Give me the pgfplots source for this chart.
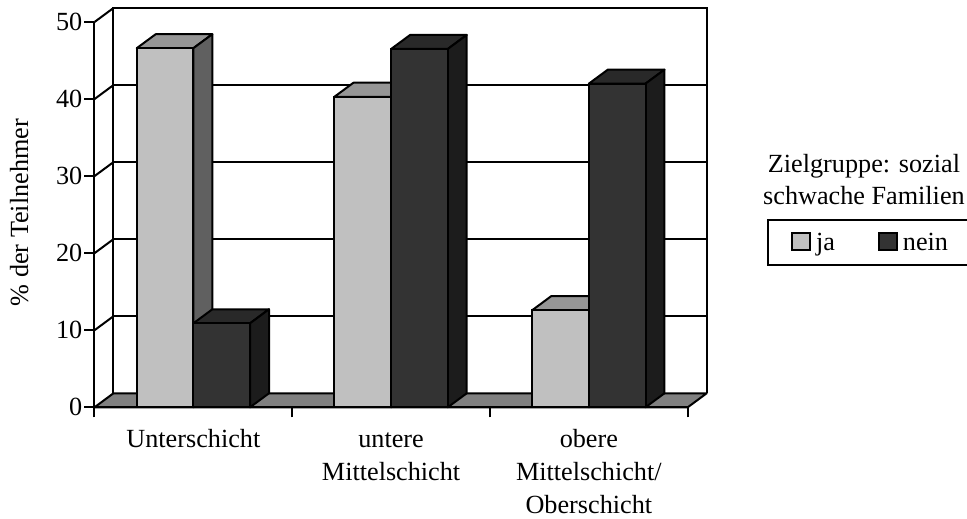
\documentclass[border=0pt]{standalone}
\usepackage{fontspec}
\setmainfont{Liberation Serif}
\usepackage{pgfplots}
\pgfplotsset{compat=1.18}
\definecolor{ltfront}{HTML}{C0C0C0}
\definecolor{lttop}{HTML}{969696}
\definecolor{ltside}{HTML}{606060}
\definecolor{dkfront}{HTML}{333333}
\definecolor{dktop}{HTML}{292929}
\definecolor{dkside}{HTML}{1C1C1C}
\definecolor{floorc}{HTML}{808080}
\newcommand{\chartfont}{\fontsize{26.2}{32}\selectfont}
\newcommand{\xfont}{\fontsize{26.2}{33}\selectfont}
\pgfplotsset{
  wall/.style={forget plot,black,line width=2pt},
  face/.style={forget plot,draw=black,line width=2pt,line join=round,fill=#1},
}
\begin{document}
\begin{tikzpicture}
\path[use as bounding box] (0,0) rectangle (967pt,519pt);
\begin{axis}[
    at={(94.5pt,111.7pt)},
    anchor=origin,
    scale only axis,
    width=612.2pt,
    height=399.3pt,
    xmin=0, xmax=3.096,
    ymin=0, ymax=51.82,
    clip=false,
    axis lines*=left,
    axis line style={draw=none},
    tick align=outside,
    major tick length=10pt,
    minor tick length=10pt,
    tick style={black,line width=2pt},
    minor tick style={black,line width=2pt},
    major x tick style={draw=none},
    xtick={0.5,1.5,2.5},
    minor xtick={0,1,2,3},
    xticklabels={\strut Unterschicht,{\strut untere\\Mittelschicht},{\strut obere\\Mittelschicht/\\Oberschicht}},
    x tick label style={font=\xfont,align=center,inner sep=0pt,yshift=-7pt},
    ytick={0,10,20,30,40,50},
    y tick label style={font=\chartfont,inner sep=2pt},
    /pgf/number format/assume math mode=true,
    ylabel={\% der Teilnehmer},
    ylabel style={font=\chartfont,at={(rel axis cs:-0.123,0.4875)},anchor=center,rotate=0},
    legend columns=2,
    legend cell align=left,
    legend style={
      at={(rel axis cs:1.0985,0.471)},anchor=north west,
      draw=black,line width=2pt,font=\chartfont,
      inner xsep=23pt,inner ysep=11pt,
      nodes={inner xsep=5pt,inner ysep=2pt},
      /tikz/every even column/.append style={column sep=38pt},
    },
  ]
% back wall, floor
\addplot[face=floorc] coordinates {(0,0) (3,0) (3.096,1.82) (0.096,1.82)} --cycle;
\addplot[wall] coordinates {(0.096,1.82) (0.096,51.82) (3.096,51.82) (3.096,1.82)};
\addplot[wall] coordinates {(0.096,11.82) (3.096,11.82)};
\addplot[wall] coordinates {(0.096,21.82) (3.096,21.82)};
\addplot[wall] coordinates {(0.096,31.82) (3.096,31.82)};
\addplot[wall] coordinates {(0.096,41.82) (3.096,41.82)};
\addplot[wall] coordinates {(0,10) (0.096,11.82)};
\addplot[wall] coordinates {(0,20) (0.096,21.82)};
\addplot[wall] coordinates {(0,30) (0.096,31.82)};
\addplot[wall] coordinates {(0,40) (0.096,41.82)};
\addplot[wall] coordinates {(0,50) (0.096,51.82)};
\addplot[wall] coordinates {(0,0) (0,50)};
% ja
\addplot[face=lttop] coordinates {(0.2135,46.6) (0.5,46.6) (0.596,48.42) (0.3095,48.42)} --cycle;
\addplot[face=ltside] coordinates {(0.5,0) (0.596,1.82) (0.596,48.42) (0.5,46.6)} --cycle;
\addplot[face=lttop] coordinates {(1.2135,40.3) (1.5,40.3) (1.596,42.12) (1.3095,42.12)} --cycle;
\addplot[face=ltside] coordinates {(1.5,0) (1.596,1.82) (1.596,42.12) (1.5,40.3)} --cycle;
\addplot[face=lttop] coordinates {(2.2135,12.6) (2.5,12.6) (2.596,14.42) (2.3095,14.42)} --cycle;
\addplot[face=ltside] coordinates {(2.5,0) (2.596,1.82) (2.596,14.42) (2.5,12.6)} --cycle;
\addplot[forget plot,ybar,bar width=0.2865,bar shift=-0.14325,draw=black,line width=2pt,fill=ltfront]
  coordinates {(0.5,46.6) (1.5,40.3) (2.5,12.6)};
% nein
\addplot[face=dktop] coordinates {(0.5,10.9) (0.7865,10.9) (0.8825,12.72) (0.596,12.72)} --cycle;
\addplot[face=dkside] coordinates {(0.7865,0) (0.8825,1.82) (0.8825,12.72) (0.7865,10.9)} --cycle;
\addplot[face=dktop] coordinates {(1.5,46.5) (1.7865,46.5) (1.8825,48.32) (1.596,48.32)} --cycle;
\addplot[face=dkside] coordinates {(1.7865,0) (1.8825,1.82) (1.8825,48.32) (1.7865,46.5)} --cycle;
\addplot[face=dktop] coordinates {(2.5,42.0) (2.7865,42.0) (2.8825,43.82) (2.596,43.82)} --cycle;
\addplot[face=dkside] coordinates {(2.7865,0) (2.8825,1.82) (2.8825,43.82) (2.7865,42.0)} --cycle;
\addplot[forget plot,ybar,bar width=0.2865,bar shift=0.14325,draw=black,line width=2pt,fill=dkfront]
  coordinates {(0.5,10.9) (1.5,46.5) (2.5,42.0)};
\addplot[wall] coordinates {(0,0) (3,0)};
% legend
\addlegendimage{legend image code/.code={\draw[draw=black,line width=2pt,fill=ltfront] (0pt,-7.5pt) rectangle (18pt,10pt);}}
\addlegendentry{ja}
\addlegendimage{legend image code/.code={\draw[draw=black,line width=2pt,fill=dkfront] (0pt,-7.5pt) rectangle (18pt,10pt);}}
\addlegendentry{nein\hspace*{-8pt}}
\node[font=\chartfont,align=center,anchor=center] at (rel axis cs:1.2569,0.5695) {Zielgruppe: sozial\\schwache Familien};
\end{axis}
\end{tikzpicture}
\end{document}
